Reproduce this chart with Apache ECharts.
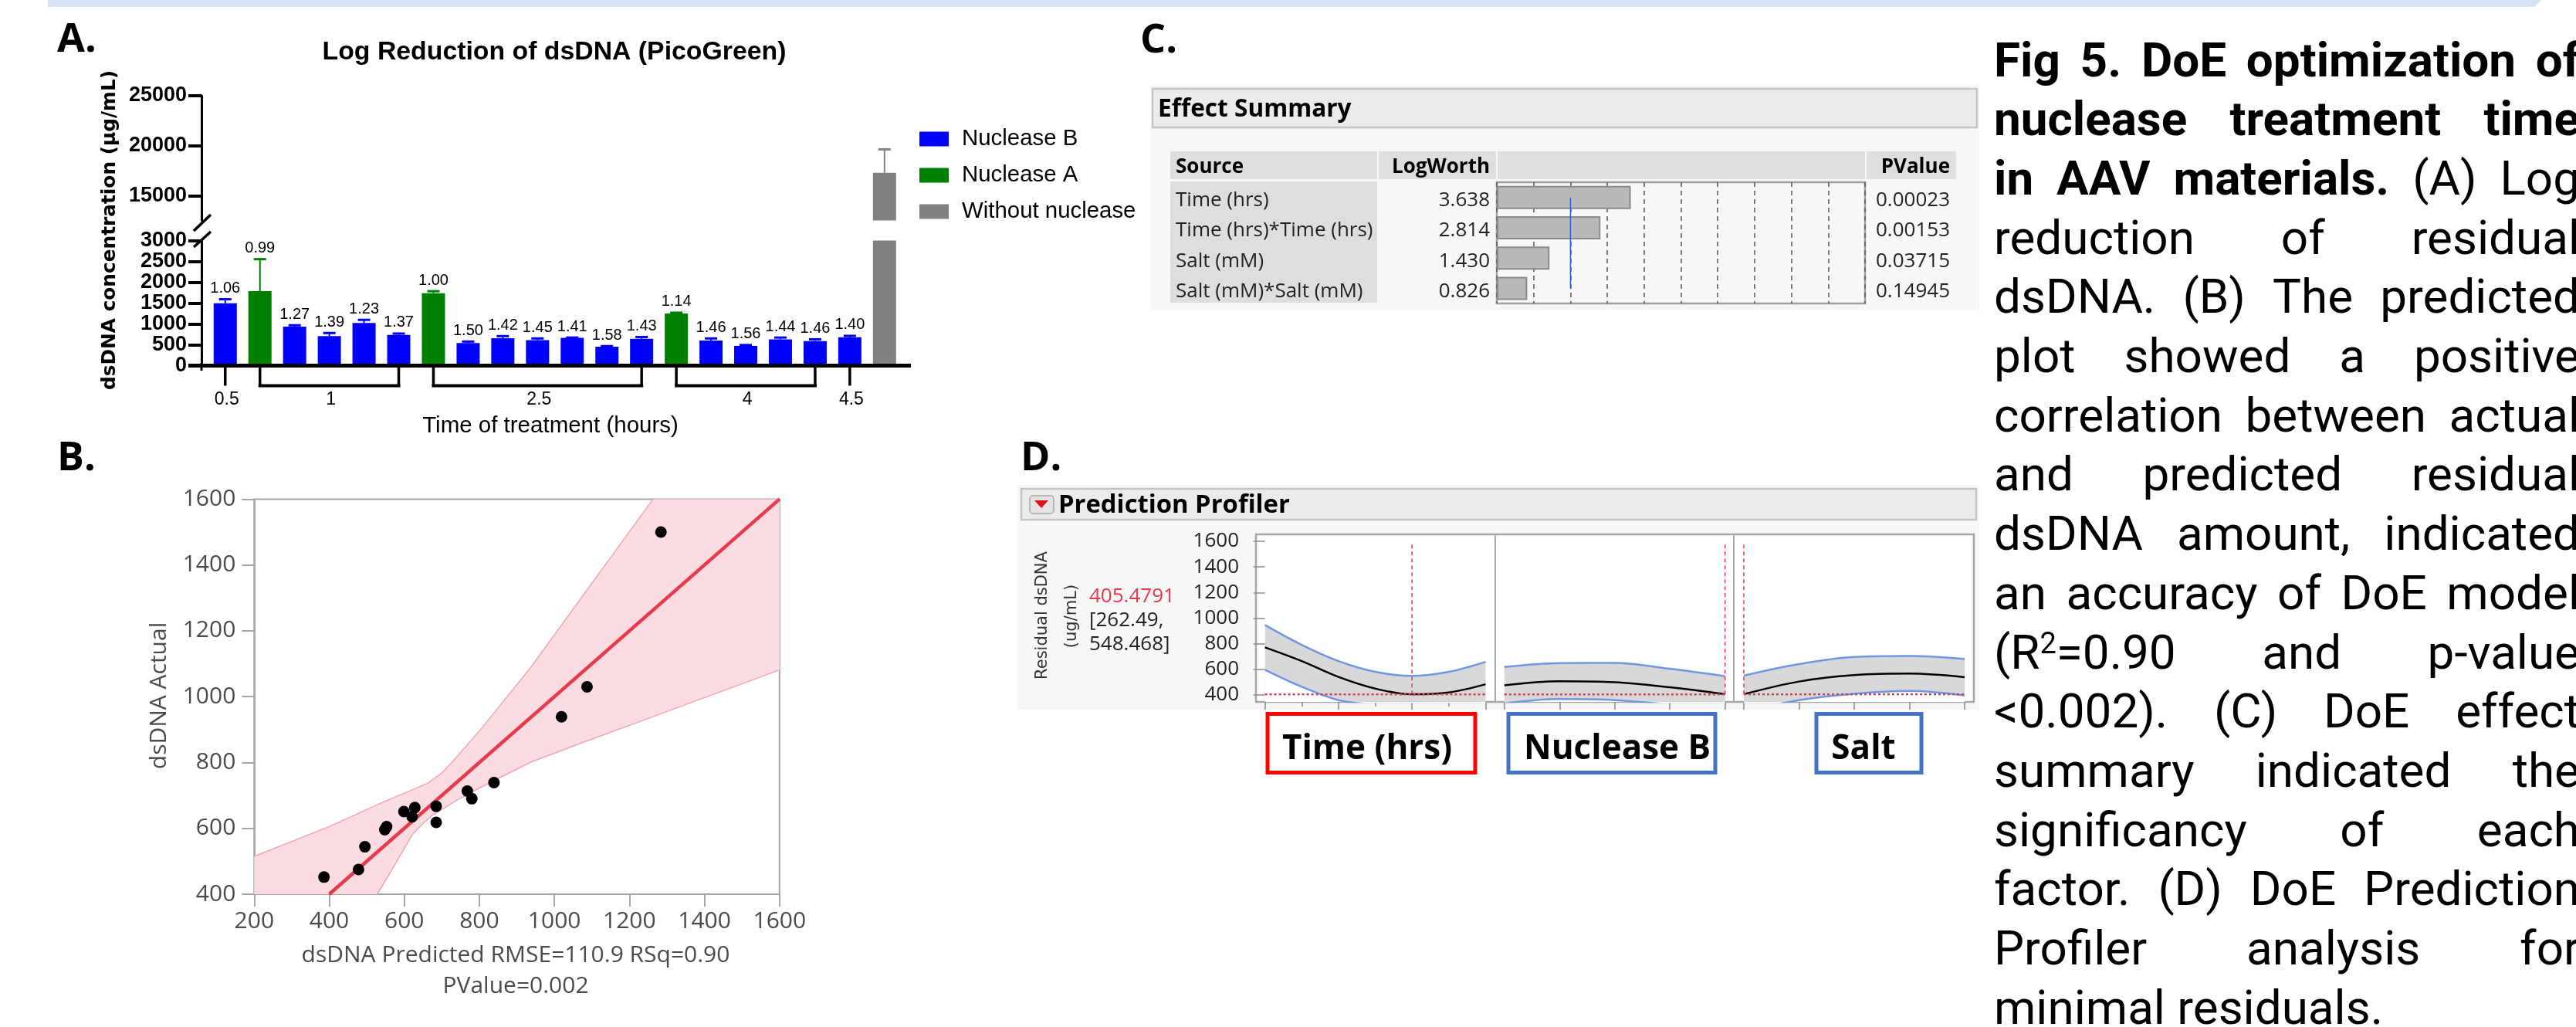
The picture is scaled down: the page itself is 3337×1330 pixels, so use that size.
<!DOCTYPE html>
<html><head><meta charset="utf-8">
<style>html,body{margin:0;padding:0;background:#fff}#c{width:3337px;height:1330px}</style>
<script src="https://cdn.jsdelivr.net/npm/echarts@6/dist/echarts.min.js"></script>
</head><body><div id="c"></div>
<script>
// ---------- Panel A data
const barCategories = ['a1','a2','a3','a4','a5','a6','a7','a8','a9','a10','a11','a12','a13','a14','a15','a16','a17','a18','a19','a20'];
const nucleaseB = [1496,null,933,707,1023,734,null,542,659,611,666,453,645,null,604,474,631,590,679,null];
const nucleaseA = [null,1785,null,null,null,null,1736,null,null,null,null,null,null,1249,null,null,null,null,null,null];
const withoutNuclease = [null,null,null,null,null,null,null,null,null,null,null,null,null,null,null,null,null,null,null,17287];
const errorHigh = [1592,2553,968,782,1098,769,1785,577,707,652,673,467,686,1270,652,494,673,631,714,19630];
const logLabels = ['1.06','0.99','1.27','1.39','1.23','1.37','1.00','1.50','1.42','1.45','1.41','1.58','1.43','1.14','1.46','1.56','1.44','1.46','1.40',''];
const timeGroups = [[0,0],[1,5],[6,12],[13,17],[18,18]];
const timeLabels = ['0.5','1','2.5','4','4.5'];
// ---------- Panel B data
const predictedActual = [[386,452],[478,475],[495,544],[548,596],[553,605],[599,651],[621,635],[628,663],[685,667],[685,618],[768,713],[780,690],[839,739],[1019,939],[1087,1030],[1284,1500]];
const fitLine = [[400,400],[1600,1600]];
const ciUpper = [[200,515],[399,605],[544,680],[662,737],[700,768],[727,801],[765,850],[806,904],[937,1089],[1069,1296],[1263,1600]];
const ciLower = [[528,400],[575,490],[622,582],[650,615],[675,640],[741,686],[806,726],[937,801],[1069,858],[1331,968],[1600,1081]];
// ---------- Panel C data
const effectSources = ['Time (hrs)','Time (hrs)*Time (hrs)','Salt (mM)','Salt (mM)*Salt (mM)'];
const logWorth = [3.638,2.814,1.430,0.826];
const pValues = ['0.00023','0.00153','0.03715','0.14945'];
const logWorthRef = 2;
// ---------- Panel D data
const profTicks = [400,600,800,1000,1200,1400,1600];
const timeCenter = [772,665,541,450,406,420,484];
const timeUpper = [947,792,665,581,549,581,659];
const timeLower = [597,464,360,319,263,260,309];
const nucCenter = [476,507,500,460,406];
const nucUpper = [619,649,651,605,547];
const nucLower = [334,368,360,324,265];
const saltCenter = [406,505,555,567,539];
const saltUpper = [551,641,697,705,681];
const saltLower = [269,360,410,432,396];
const optimum = 405.4791;
const optimumAt = [4,4,0];
// ---------- Caption
const captionLines = [
 'Fig 5. DoE optimization of','nuclease treatment time','in AAV materials. (A) Log','reduction of residual',
 'dsDNA. (B) The predicted','plot showed a positive','correlation between actual','and predicted residual',
 'dsDNA amount, indicated','an accuracy of DoE model','(R2=0.90 and p-value','<0.002). (C) DoE effect',
 'summary indicated the','significancy of each','factor. (D) DoE Prediction','Profiler analysis for','minimal residuals.'];
const captionBoldWords = [6,3,3];

const SANS='"Liberation Sans"', OS='"Open Sans"';
const G=[];
function T(text,x,y,size,o){o=o||{};G.push({type:'text',x:x,y:y,z:o.z||30,rotation:o.rot||0,silent:true,style:{text:text,fill:o.fill||'#000',
  fontSize:size,fontFamily:o.fam||SANS,fontWeight:o.w||'normal',align:o.al||'left',textAlign:o.al||'left',verticalAlign:'middle',textVerticalAlign:'middle'}});}
function R(x,y,w,h,fill,stroke,lw,z,r){G.push({type:'rect',z:z==null?-5:z,silent:true,shape:{x:x,y:y,width:w,height:h,r:r||0},style:{fill:fill,stroke:stroke||null,lineWidth:lw||0}});}
function L(x1,y1,x2,y2,c,lw,z){G.push({type:'line',z:z==null?25:z,silent:true,shape:{x1:x1,y1:y1,x2:x2,y2:y2},style:{stroke:c,lineWidth:lw}});}

// top band
G.push({type:'polygon',z:-5,silent:true,shape:{points:[[62,0],[3292,0],[3283,9],[62,9]]},style:{fill:'#d7e3f4'}});
// letters
T('A.',74,52,52,{fam:OS,w:'bold'});T('B.',74,594,52,{fam:OS,w:'bold'});T('C.',1477,53,52,{fam:OS,w:'bold'});T('D.',1322,594,52,{fam:OS,w:'bold'});
// Panel A text + axis decoration
T('Log Reduction of dsDNA (PicoGreen)',718,68,33.8,{w:'bold',al:'center'});
T('dsDNA concentration (\u00b5g/mL)',143,298,24.8,{fam:'"DejaVu Sans"',w:'bold',al:'center',rot:Math.PI/2});
T('Time of treatment (hours)',713,552,29.5,{al:'center'});
L(244,473.5,1180,473.5,'#000',5);
L(261,470,261,480,'#000',3);
L(251,299,273,278,'#000',3.5);L(251,320,273,300,'#000',3.5);
// Panel B text
T('dsDNA Actual',206,901,30,{fam:OS,al:'center',rot:Math.PI/2,fill:'#4a4a4a'});
T('dsDNA Predicted RMSE=110.9 RSq=0.90',668,1237,30,{fam:OS,al:'center',fill:'#4a4a4a'});
T('PValue=0.002',668,1277,30,{fam:OS,al:'center',fill:'#4a4a4a'});
// Panel C table
R(1490,110,1074,291,'#f7f7f7');
R(1493,115,1068,50,'#ebebeb','#c4c4c4',2.5);
T('Effect Summary',1500,142,31.6,{fam:OS,w:'bold'});
R(1516,196,268,36,'#dedede');R(1786,196,152,36,'#dedede');R(1940,196,476,36,'#dedede');R(2418,196,116,36,'#dedede');
R(1516,235,268,157,'#dedede');
T('Source',1523,217,26,{fam:OS,w:'bold'});T('LogWorth',1930,217,26,{fam:OS,w:'bold',al:'right'});T('PValue',2526,217,26,{fam:OS,w:'bold',al:'right'});
const rowY=[260,299,339,378];
effectSources.forEach((s,i)=>{T(s,1523,rowY[i],26,{fam:OS,fill:'#222'});T(logWorth[i].toFixed(3),1930,rowY[i],26,{fam:OS,fill:'#222',al:'right'});T(pValues[i],2526,rowY[i],26,{fam:OS,fill:'#222',al:'right'});});
// Panel D text
R(1318,628,1246,291,'#f7f7f7');
R(1323,633,1237,40,'#ebebeb','#c4c4c4',2.5);
R(1334,642,31,23,'#e4e4e4','#a8a8a8',1.5,-4,4);
G.push({type:'polygon',z:-3,silent:true,shape:{points:[[1340,648],[1358,648],[1349,658]]},style:{fill:'#e0101f'}});
T('Prediction Profiler',1371,655,32.8,{fam:OS,w:'bold'});
T('Residual dsDNA',1351,797,21,{fam:'"DejaVu Sans"',al:'center',rot:Math.PI/2,fill:'#333'});
T('(ug/mL)',1389,798,21,{fam:'"DejaVu Sans"',al:'center',rot:Math.PI/2,fill:'#333'});
T(String(optimum),1411,773,26,{fam:OS,fill:'#e8384f'});
T('[262.49,',1411,804,26,{fam:OS,fill:'#222'});T('548.468]',1411,835,26,{fam:OS,fill:'#222'});
R(1627,692,930,217,'#fff','#a6a6a6',2.5,-2);
L(1937,692,1937,909,'#a6a6a6',2,1);L(2246,692,2246,909,'#a6a6a6',2,1);
R(1642,924.5,269,76,'#fff','#ff0000',5,5);R(1954,924.5,268,76,'#fff','#4472c4',5,5);R(2353,924.5,136,76,'#fff','#4472c4',5,5);
T('Time (hrs)',1771,970,44,{fam:OS,w:'bold',al:'center'});T('Nuclease B',2095,970,44,{fam:OS,w:'bold',al:'center'});T('Salt',2414,970,44,{fam:OS,w:'bold',al:'center'});
// Caption, justified word by word
const mc=document.createElement('canvas').getContext('2d');
function measure(t,w,s){mc.font=(w||'normal')+' '+(s||62)+'px Roboto';return mc.measureText(t).width;}
const capLeft=2583,capRight=3342;
captionLines.forEach((line,i)=>{
  const words=line.split(' '),bold=captionBoldWords[i]||0,base=99+76.7*i,cy=base-16;
  const wt=(k)=>k<bold?'bold':'normal';
  const widths=words.map((wd,k)=>wd==='(R2=0.90'?measure('(R',wt(k))+measure('2',wt(k),38)+measure('=0.90',wt(k)):measure(wd,wt(k)));
  const sum=widths.reduce((a,b)=>a+b,0);
  const gap=i===captionLines.length-1?measure(' '):(capRight-capLeft-sum)/(words.length-1);
  let x=capLeft;
  words.forEach((wd,k)=>{
    const o={fam:'Roboto',w:wt(k)};
    if(wd==='(R2=0.90'){T('(R',x,cy,62,o);const a=measure('(R');T('2',x+a,cy-14,38,o);const b=measure('2','normal',38);T('=0.90',x+a+b,cy,62,o);}
    else T(wd,x,cy,62,o);
    x+=widths[k]+gap;
  });
});

const colorOf={B:'#0000ff',A:'#008000',N:'#808080'};
const plain=v=>String(v);
function kindAt(i){return nucleaseB[i]!=null?'B':nucleaseA[i]!=null?'A':'N';}
function meanAt(i){const v=nucleaseB[i]!=null?nucleaseB[i]:nucleaseA[i]!=null?nucleaseA[i]:withoutNuclease[i];return v;}
function errorRender(params,api){
  const i=api.value(0),hi=api.coord([i,api.value(1)]),lo=api.coord([i,meanAt(i)]),c=colorOf[kindAt(i)],w=8;
  const ch=[{type:'line',shape:{x1:hi[0],y1:hi[1],x2:lo[0],y2:lo[1]},style:{stroke:c,lineWidth:2}},
            {type:'line',shape:{x1:hi[0]-w,y1:hi[1],x2:hi[0]+w,y2:hi[1]},style:{stroke:c,lineWidth:3}}];
  if(logLabels[i]) ch.push({type:'text',x:hi[0],y:hi[1]-14,style:{text:logLabels[i],fontSize:20,fontFamily:SANS,fill:'#000',align:'center',textAlign:'center',verticalAlign:'middle',textVerticalAlign:'middle'}});
  return {type:'group',children:ch};
}
function bracketRender(params,api){
  const a=api.coord([api.value(0),0]),b=api.coord([api.value(1),0]),top=a[1]+2,bot=a[1]+26;
  const ch=[{type:'line',shape:{x1:a[0],y1:top,x2:a[0],y2:bot},style:{stroke:'#000',lineWidth:3.5}}];
  if(b[0]!==a[0]){ch.push({type:'line',shape:{x1:b[0],y1:top,x2:b[0],y2:bot},style:{stroke:'#000',lineWidth:3.5}});
    ch.push({type:'line',shape:{x1:a[0]-2,y1:bot,x2:b[0]+2,y2:bot},style:{stroke:'#000',lineWidth:4}});}
  ch.push({type:'text',x:(a[0]+b[0])/2+2,y:a[1]+44,style:{text:timeLabels[params.dataIndex],fontSize:23,fontFamily:SANS,fill:'#000',align:'center',textAlign:'center',verticalAlign:'middle',textVerticalAlign:'middle'}});
  return {type:'group',children:ch};
}
function bandRender(params,api){
  const pts=ciUpper.concat([[1600,1600]],ciLower.slice().reverse(),[[200,400]]).map(p=>api.coord(p));
  return {type:'polygon',shape:{points:pts},style:{fill:'#fbdce1'}};
}
const aYAxisBase={type:'value',axisLine:{show:true,lineStyle:{color:'#000',width:3}},axisTick:{show:true,length:17,lineStyle:{color:'#000',width:4}},splitLine:{show:false},
  axisLabel:{color:'#000',fontSize:27,fontWeight:'bold',fontFamily:SANS,margin:19,formatter:plain}};
const hidden={show:false};
function profAxisX(gi,max,interval,minor){return {type:'value',gridIndex:gi,min:0,max:max,interval:interval,axisLine:hidden,splitLine:hidden,axisLabel:hidden,
  axisTick:{show:true,length:10,lineStyle:{color:'#8a8a8a',width:1.5}},minorTick:{show:!!minor,splitNumber:2,length:6,lineStyle:{color:'#8a8a8a',width:1.5}},minorSplitLine:hidden};}
function profAxisY(gi,show){return {type:'value',gridIndex:gi,min:346,max:1654,offset:11.6,show:show,axisLine:hidden,splitLine:hidden,
  axisTick:{show:true,length:15,customValues:profTicks,lineStyle:{color:'#8a8a8a',width:1.5}},
  axisLabel:{customValues:profTicks,color:'#222',fontSize:26,fontFamily:OS,margin:22,formatter:plain}};}
function idx(a){return a.map((v,i)=>[i,v]);}
function prof(ai,center,upper,lower){
  const line=(data,c,w,extra)=>Object.assign({type:'line',xAxisIndex:ai,yAxisIndex:ai,data:data,symbol:'none',silent:true,lineStyle:{color:c,width:w}},extra||{});
  const tmax=center.length-1;
  return [
    line(idx(upper),'#6f95e3',2.5,{smooth:0.35,areaStyle:{color:'#d8d8d8',origin:'start',opacity:1},z:2}),
    line(idx(lower),'#6f95e3',2.5,{smooth:0.35,areaStyle:{color:'#ffffff',origin:'start',opacity:1},z:3}),
    line(idx(center),'#000',2.5,{smooth:0.35,z:5}),
    line([[optimumAt[ai-4],optimum],[optimumAt[ai-4],1576]],'#e8384f',1.5,{lineStyle:{color:'#e8384f',width:1.5,type:[5,4]},z:6}),
    line([[0,optimum],[tmax,optimum]],'#e8384f',2.5,{lineStyle:{color:'#e8384f',width:2.5,type:[3,3]},z:6})
  ];
}
const option={animation:false,backgroundColor:'#fff',
 grid:[
  {left:269.3,top:124,width:899,height:161.6},
  {left:269.3,top:311.5,width:899,height:162},
  {left:329.3,top:646.4,width:680.5,height:511.6,show:true,backgroundColor:'#fff',borderColor:'#a6a6a6',borderWidth:2},
  {left:1939,top:236,width:477,height:157,show:true,borderColor:'#a0a0a0',borderWidth:2.5},
  {left:1638.6,top:692,width:285.9,height:217},
  {left:1948.8,top:692,width:285.9,height:217},
  {left:2259,top:692,width:286,height:217}
 ],
 xAxis:[
  {type:'category',gridIndex:0,data:barCategories,show:false},
  {type:'category',gridIndex:1,data:barCategories,axisLine:hidden,axisTick:hidden,axisLabel:hidden},
  {type:'value',gridIndex:2,min:200,max:1600,interval:200,splitLine:hidden,axisLine:{lineStyle:{color:'#a6a6a6',width:2}},axisTick:{length:16,lineStyle:{color:'#a6a6a6',width:2}},axisLabel:{color:'#4a4a4a',fontSize:30,fontFamily:OS,margin:20,formatter:plain}},
  {type:'value',gridIndex:3,min:0,max:10,interval:1,axisLine:hidden,axisTick:hidden,axisLabel:hidden,splitLine:{show:true,lineStyle:{color:'#555',width:1.5,type:[6,5]}}},
  profAxisX(4,6,2,true),profAxisX(5,4,1,false),profAxisX(6,4,1,false)
 ],
 yAxis:[
  Object.assign({},aYAxisBase,{gridIndex:0,min:12500,max:25000,offset:8.3,axisTick:{show:true,length:17,customValues:[15000,20000,25000],lineStyle:{color:'#000',width:4}},axisLabel:Object.assign({},aYAxisBase.axisLabel,{customValues:[15000,20000,25000]})}),
  Object.assign({},aYAxisBase,{gridIndex:1,min:0,max:3000,interval:500,offset:8.3}),
  {type:'value',gridIndex:2,min:400,max:1600,interval:200,splitLine:hidden,axisLine:{show:true,lineStyle:{color:'#a6a6a6',width:2}},axisTick:{show:true,length:16,lineStyle:{color:'#a6a6a6',width:2}},axisLabel:{color:'#4a4a4a',fontSize:30,fontFamily:OS,margin:24,formatter:plain}},
  {type:'category',gridIndex:3,inverse:true,data:effectSources,axisLine:hidden,axisTick:hidden,axisLabel:hidden},
  profAxisY(4,true),profAxisY(5,false),profAxisY(6,false)
 ],
 legend:{left:1191,top:164,padding:0,orient:'vertical',itemWidth:38,itemHeight:19,itemGap:15,icon:'rect',selectedMode:false,data:['Nuclease B','Nuclease A','Without nuclease'],
   textStyle:{fontSize:29.4,fontFamily:SANS,color:'#000',padding:[0,0,0,12],lineHeight:32}},
 graphic:{elements:G},
 series:[
  {name:'Nuclease B',type:'bar',xAxisIndex:1,yAxisIndex:1,stack:'a',barWidth:30,data:nucleaseB,itemStyle:{color:colorOf.B}},
  {name:'Nuclease A',type:'bar',xAxisIndex:1,yAxisIndex:1,stack:'a',barWidth:30,data:nucleaseA,itemStyle:{color:colorOf.A}},
  {name:'Without nuclease',type:'bar',xAxisIndex:1,yAxisIndex:1,stack:'a',barWidth:30,data:withoutNuclease,itemStyle:{color:colorOf.N}},
  {name:'Without nuclease',type:'bar',xAxisIndex:0,yAxisIndex:0,barWidth:30,data:withoutNuclease,itemStyle:{color:colorOf.N}},
  {type:'custom',xAxisIndex:1,yAxisIndex:1,clip:false,z:4,data:errorHigh.slice(0,19).map((v,i)=>[i,v]),renderItem:errorRender,encode:{x:0,y:1},silent:true},
  {type:'custom',xAxisIndex:0,yAxisIndex:0,clip:false,z:4,data:[[19,errorHigh[19]]],renderItem:errorRender,encode:{x:0,y:1},silent:true},
  {type:'custom',xAxisIndex:1,yAxisIndex:1,clip:false,z:1,data:timeGroups,renderItem:bracketRender,encode:{x:0,y:1},silent:true},
  {type:'custom',xAxisIndex:2,yAxisIndex:2,z:1,data:[[200,400]],renderItem:bandRender,encode:{x:0,y:1},silent:true},
  {type:'line',xAxisIndex:2,yAxisIndex:2,z:2,data:ciUpper,symbol:'none',lineStyle:{color:'#f3a6b0',width:1.5},silent:true},
  {type:'line',xAxisIndex:2,yAxisIndex:2,z:2,data:ciLower,symbol:'none',lineStyle:{color:'#f3a6b0',width:1.5},silent:true},
  {type:'line',xAxisIndex:2,yAxisIndex:2,z:3,data:fitLine,symbol:'none',lineStyle:{color:'#e8394d',width:4.5},silent:true},
  {type:'scatter',xAxisIndex:2,yAxisIndex:2,z:4,data:predictedActual,symbolSize:15,itemStyle:{color:'#000',opacity:1},silent:true},
  {type:'bar',xAxisIndex:3,yAxisIndex:3,barWidth:30,data:logWorth,itemStyle:{color:'#b9b9b9',borderColor:'#8a8a8a',borderWidth:2},silent:true},
  {type:'line',xAxisIndex:3,yAxisIndex:3,z:4,data:[[logWorthRef,effectSources[0]],[logWorthRef,effectSources[3]]],symbol:'none',lineStyle:{color:'#2a64e0',width:1.5},silent:true}
 ].concat(prof(4,timeCenter,timeUpper,timeLower),prof(5,nucCenter,nucUpper,nucLower),prof(6,saltCenter,saltUpper,saltLower))
};
const chart=echarts.init(document.getElementById('c'),null,{renderer:'canvas',width:3337,height:1330});
chart.setOption(option);
</script></body></html>
